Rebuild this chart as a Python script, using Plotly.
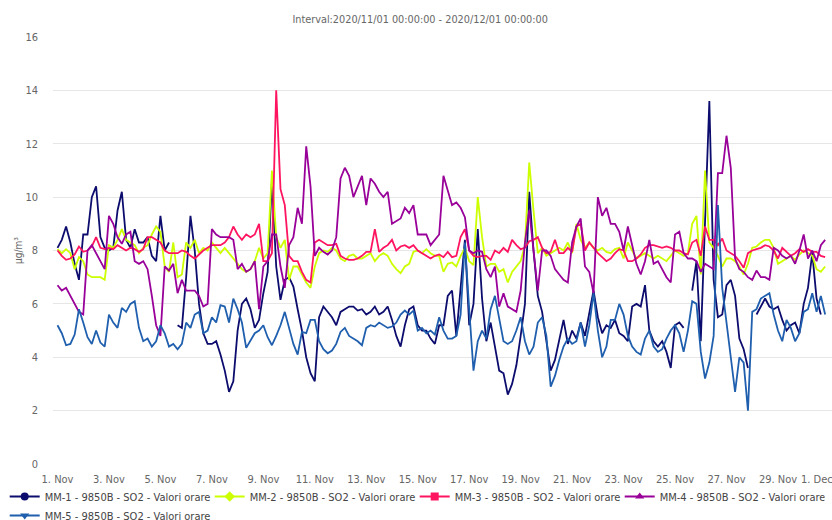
import pandas as pd
import plotly.graph_objects as go

# 4-hourly samples starting 2020-11-01 00:00 (180 points)
start = "2020-11-01 00:00"
n_points = 180
step = "4h"

mm1 = [8.1, 8.4, 8.9, 8.3, 7.5, 6.9, 8.6, 8.6, 10.0, 10.4, 8.5, 8.1, 8.0, 8.1, 9.5, 10.2, 8.4, 8.1, 8.8, 8.3,
       8.3, 8.5, 7.8, 7.6, 9.3, 8.0, 8.3, None,
       5.2, 5.1, 7.0, 9.3, 8.0, 6.0, 4.9, 4.5, 4.5, 4.6, 4.1, 3.5, 2.7,
       3.1, 5.0, 6.0, 6.2, 5.8, 5.1, 5.4, 6.4, 7.2, 10.6, 7.4, 6.15, 6.9, 7.0, 6.65, 5.8, 5.0, 4.0, 3.4,
       3.1, 5.5, 5.9, 5.7, 5.5, 5.2, 5.7, 5.8, 5.9, 5.9, 5.75, 5.8, 5.6, 5.7, 5.9, 5.6, 5.7, 5.9, 5.4, 4.8,
       4.4, 5.2, 5.8, 5.9, 5.2, 5.0, 5.0, 4.7, 4.5, 5.2,
       5.2, 6.3, 6.5, 4.8, 6.5, 8.4, 5.2, 6.0, 8.8, 6.2, 4.6, 5.3, 4.4, 3.5, 3.4, 2.6, 3.0, 3.7, 4.8, 6.0,
       10.2, 8.0, 6.3, 5.7, 4.6, 3.5, 3.9, 4.6, 5.4, 4.5, 5.0,
       4.7, 5.3, 4.8, 5.6, 6.5, 5.5, 4.9, 5.2, 5.1, 5.4, 4.9, 4.8, 4.6, 5.9, 6.0, 5.9, 6.7, 5.0, 4.6, 4.4,
       4.6, 4.2, 3.6, 5.2, 5.3, 5.1, None, 6.5, 7.6, 4.6,
       9.0, 13.6, 6.9, 5.5, 5.6, 6.7, 6.9, 6.3, 4.7, 4.3, 3.6, None, 5.6, 5.9, 6.2, 5.9, 5.8, 5.9, 5.4, 5.0,
       5.2, 5.3, 4.9, 6.0, 6.6, 7.9, 6.2, 5.6, None]

mm2 = [8.05, 7.9, 8.05, 7.9, 7.3, 7.75, 7.6, 7.1, 7.0, 7.0, 7.0, 6.9, 8.2, 8.1, 8.4, 8.8, 8.4, 8.3, 8.2, 7.9,
       8.1, 8.2, 8.6, 8.9, 8.7, 7.4, 7.2, 8.3, 7.0, 7.1, 8.3, 8.1, 8.4, 7.9, 8.1, 8.0, 8.3, 8.1, 7.9, 8.1, 7.9,
       7.7, 7.5, 7.3, 7.2, 7.3, 7.6, 8.1, 7.7, 7.9, 11.0, 8.5, 8.1, 8.4, 6.9, 7.4, 7.4, 7.1, 6.8, 6.6,
       7.4, 7.9, 8.0, 7.95, 8.1, 8.0, 7.7, 7.6, 7.8, 7.85, 7.7, 7.7, 7.8, 7.9, 7.6, 7.8, 7.9, 7.8, 7.5, 7.3,
       7.15, 7.4, 7.5, 7.95, 8.0, 7.9, 8.05, 7.9, 7.8, 7.8,
       7.2, 7.5, 7.55, 7.4, 7.8, 8.1, 7.6, 7.45, 10.0, 8.5, 7.4, 7.5, 7.5, 7.2, 7.3, 6.8, 7.2, 7.4, 7.6, 8.2,
       11.3, 9.5, 7.9, 8.1, 7.8, 7.9, 8.0, 8.1, 8.0, 8.3, 7.9,
       9.0, 8.4, 8.1, 8.3, 8.1, 8.0, 8.1, 7.95, 7.9, 8.05, 8.1, 7.7, 8.3, 8.0, 7.7, 7.8, 7.9, 7.8, 7.7, 7.8,
       7.7, 7.6, 7.8, 8.0, 7.9, 7.8, 7.9, 9.0, 9.3, 7.1,
       11.0, 8.3, 8.1, 7.8, 7.4, 7.7, 7.7, 7.6, 7.4, 7.1, 7.5, 8.1, 8.15, 8.3, 8.4, 8.4, 8.1, 7.5, 7.6, 7.7,
       7.8, 7.65, 7.85, 8.0, 7.9, 7.8, 7.3, 7.2, 7.4]

mm3 = [8.0, 7.8, 7.65, 7.7, 7.85, 8.15, 7.95, 8.0, 8.15, 8.5, 8.1, 8.05, 8.1, 8.05, 8.2, 8.1, 8.0, 8.1, 8.05, 7.95,
       8.05, 8.5, 8.5, 8.4, 8.3, 8.0, 7.9, 7.9, 7.9, 8.0, 7.95, 7.8, 7.7, 7.85, 8.0, 8.1, 8.2, 8.2, 8.2, 8.3, 8.5,
       8.9, 8.6, 8.4, 8.6, 8.5, 8.6, 9.0, 7.6, 7.6, 7.9, 14.0, 10.3, 9.7, 7.8, 7.6, 7.6, 7.2, 6.9, 6.8,
       8.3, 8.4, 8.3, 8.2, 8.2, 8.25, 7.8, 7.7, 7.65, 7.65, 7.7, 7.8, 7.95, 7.95, 8.8, 7.95, 8.1, 8.2, 8.4, 8.0,
       8.15, 8.2, 8.1, 8.2, 8.0, 7.9, 7.8, 7.7, 7.8, 7.85,
       7.75, 7.95, 7.75, 7.8, 8.5, 8.8, 8.0, 7.8, 7.75, 7.8, 7.8, 7.65, 8.0, 7.9, 8.1, 7.95, 8.4, 8.2, 8.05, 8.1,
       8.35, 8.4, 8.5, 8.1, 7.9, 7.95, 8.4, 7.9, 7.9, 8.1, 7.95,
       8.9, 9.0, 8.0, 8.3, 8.1, 7.9, 7.75, 7.6, 7.7, 7.9, 8.05, 8.0, 7.6, 7.6, 7.7, 7.85, 8.1, 8.2, 8.2, 8.15,
       8.1, 8.15, 8.1, 8.0, 8.0, 7.9, 7.85, 8.3, 8.4, 7.8,
       8.9, 8.4, 8.4, 8.2, 8.45, 8.0, 7.9, 7.8, 7.6, 7.35, 7.9, 8.0, 8.05, 8.1, 8.2, 8.15, 8.0, 7.7, 8.1, 7.95,
       7.8, 7.9, 8.05, 7.95, 8.05, 7.95, 7.95, 7.8, 7.75]

mm4 = [6.7, 6.5, 6.6, 6.3, 6.05, 5.7, 5.6, 8.0, 8.2, 7.9, 7.6, 7.3, 9.3, 9.0, 8.5, 8.25, 8.6, 8.7, 7.6, 7.5,
       7.6, 7.3, 6.3, 5.2, 4.8, 7.4, 7.25, 7.5, 6.4, 6.9, 6.5, 6.5, 6.5, 6.3, 5.9, 6.0, 8.8, 8.6, 8.5, 8.5, 8.5,
       8.4, 7.3, 7.5, 7.2, 7.3, 7.6, 5.8, 7.4, 7.6, 8.6, 8.6, 7.4, 6.6, 8.2, 8.5, 9.6, 9.0, 11.9, 10.4,
       7.8, 8.1, 7.95, 7.85, 8.0, 8.5, 10.7, 11.1, 10.8, 10.0, 10.4, 10.8, 9.7, 10.7, 10.5, 10.2, 10.0, 10.2, 9.0, 9.1,
       9.2, 9.6, 9.4, 9.7, 8.6, 8.6, 8.6, 8.2, 8.4, 8.6,
       10.8, 10.2, 9.7, 9.8, 9.6, 9.25, 8.0, 7.9, 8.0, 7.95, 7.3, 7.0, 7.4, 5.9, 6.4, 5.9, 5.8, 5.7, 6.5, 8.3,
       9.5, 7.9, 6.5, 8.0, 8.0, 7.8, 7.3, 7.1, 6.9, 6.8, 8.3,
       8.9, 9.2, 7.4, 7.2, 6.4, 10.0, 9.3, 9.6, 9.0, 9.0, 8.7, 8.0, 8.9, 8.2, 7.5, 7.1, 7.6, 8.4, 7.5, 7.6,
       7.3, 7.0, 6.8, 8.6, 8.7, 7.9, 7.7, 7.7, 7.6, 7.2,
       7.5, 7.4, 7.3, 10.9, 10.9, 12.3, 11.1, 7.7, 7.3, 7.2, 7.0, 6.9, 7.25, 7.0, 7.0, 6.9, 8.1, 8.0, 7.8, 7.7,
       7.8, 7.5, 8.0, 8.6, 7.7, 8.0, 7.6, 8.2, 8.4]

mm5 = [5.2, 4.9, 4.45, 4.5, 4.85, 5.8, 5.3, 4.75, 4.5, 5.0, 4.55, 4.4, 5.6, 5.3, 5.1, 5.85, 5.7, 6.0, 6.1, 5.1,
       4.6, 4.7, 4.4, 4.6, 5.2, 4.9, 4.4, 4.5, 4.3, 4.5,
       5.3, 5.1, 5.6, 5.7, 4.9, 5.0, 5.5, 5.3, 5.95, 5.9, 5.3, 6.2, 5.8, 5.3, 4.35, 4.6, 4.9, 5.0, 5.2, 4.75,
       4.45, 4.8, 5.2, 5.7, 5.1, 4.5, 4.1, 4.95, 4.9, 5.4,
       5.4, 4.6, 4.3, 4.15, 4.25, 4.5, 4.95, 5.1, 4.8, 4.7, 4.6, 4.45, 5.1, 5.2, 5.15, 5.3, 5.2, 5.1, 5.15, 5.3,
       5.6, 5.75, 5.6, 5.75, 5.0, 5.1, 4.9, 5.0, 4.85, 5.5,
       5.0, 4.7, 4.7, 4.8, 5.6, 8.3, 5.8, 3.5, 4.6, 5.0, 4.7, 5.8, 6.3, 5.5, 4.6, 4.5, 4.6, 5.0, 5.5, 4.6,
       4.1, 4.4, 5.3, 5.5, 4.8, 2.9, 3.3, 3.9, 4.4, 4.7, 4.5,
       4.6, 5.3, 4.4, 5.2, 6.4, 5.0, 4.0, 4.4, 5.4, 5.4, 6.0, 5.6, 4.8, 4.4, 4.2, 4.1, 4.7, 5.0, 4.4, 4.2,
       4.3, 4.7, 5.0, 5.2, 4.9, 4.2, 5.0, 6.1, 6.0, 4.2,
       3.2, 3.8, 4.8, 9.7, 6.6, 5.4, 4.0, 2.7, 4.0, 3.8, 2.0, 5.7, 5.8, 6.2, 6.3, 6.4, 5.6, 5.0, 4.6, 5.4,
       5.1, 4.6, 4.9, 5.7, 5.8, 6.4, 5.7, 6.3, 5.6]

series_names = ["MM-1 - 9850B - SO2 - Valori orare", "MM-2 - 9850B - SO2 - Valori orare",
                "MM-3 - 9850B - SO2 - Valori orare", "MM-4 - 9850B - SO2 - Valori orare",
                "MM-5 - 9850B - SO2 - Valori orare"]
series_values = [mm1, mm2, mm3, mm4, mm5]
colors = ["#0c0c6e", "#ccff00", "#ff1460", "#990099", "#1f5fae"]
symbols = ["circle", "diamond", "square", "triangle-up", "triangle-down"]

tick_dates = pd.date_range("2020-11-01", "2020-12-01", freq="2D")
tick_labels = ["1. Nov", "3. Nov", "5. Nov", "7. Nov", "9. Nov", "11. Nov", "13. Nov", "15. Nov",
               "17. Nov", "19. Nov", "21. Nov", "23. Nov", "25. Nov", "27. Nov", "29. Nov",
               "1. Dec" + "\u00a0" * 8]

times = pd.date_range(start, periods=n_points, freq=step)

FONT = "Liberation Sans Narrow, Arial Narrow, DejaVu Sans Condensed, sans-serif"

fig = go.Figure()
for name, vals, col in zip(series_names, series_values, colors):
    fig.add_trace(go.Scatter(x=times, y=vals[:n_points], mode="lines", name=name,
                             line=dict(color=col, width=1.8), connectgaps=False,
                             showlegend=False, legendgroup=name, hoverinfo="skip"))
for name, col, sym in zip(series_names, colors, symbols):
    fig.add_trace(go.Scatter(x=[None], y=[None], mode="lines+markers", name=name,
                             line=dict(color=col, width=2),
                             marker=dict(symbol=sym, size=8, color=col),
                             legendgroup=name, showlegend=True))

fig.update_layout(
    width=832, height=520,
    margin=dict(l=53, r=0, t=37, b=56, autoexpand=False),
    paper_bgcolor="white", plot_bgcolor="white",
    font=dict(family=FONT, size=11, color="#666666"),
    title=dict(text="Interval:2020/11/01 00:00:00 - 2020/12/01 00:00:00",
               font=dict(family=FONT, size=10.8, color="#666666"),
               x=0.505, xref="container", xanchor="center",
               y=1 - 19 / 520, yref="container", yanchor="middle"),
    legend=dict(orientation="h", xref="paper", x=-0.062, xanchor="left",
                yref="paper", y=-(530 - 464) / 427, yanchor="bottom",
                entrywidth=160, entrywidthmode="pixels",
                font=dict(family=FONT, size=11, color="#444444"),
                bgcolor="rgba(0,0,0,0)", tracegroupgap=0),
    xaxis=dict(type="date",
               range=["2020-10-31 19:48", "2020-12-01 02:24"],
               tickmode="array", tickvals=list(tick_dates), ticktext=tick_labels,
               tickangle=0,
               showgrid=False, zeroline=False, showline=False, ticks="",
               ticklabeloverflow="allow",
               tickfont=dict(family=FONT, size=11, color="#666666"),
               ticklabelstandoff=7),
    yaxis=dict(range=[0, 16], dtick=2, tick0=0,
               showgrid=True, gridcolor="#e6e6e6", gridwidth=1,
               zeroline=False, showline=False, ticks="",
               tickfont=dict(family=FONT, size=11, color="#666666"),
               ticklabelstandoff=14,
               title=dict(text="µg/m³", font=dict(family=FONT, size=10, color="#666666"),
                          standoff=0)),
)

fig.write_html("out.html", config={"displayModeBar": False},
               post_script="document.body.style.margin='0';")
